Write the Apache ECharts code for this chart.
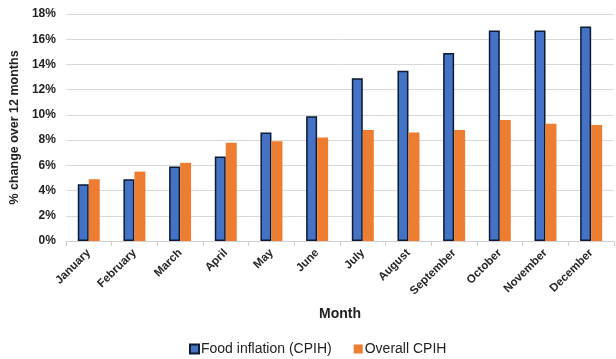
<!DOCTYPE html>
<html>
<head>
<meta charset="utf-8">
<script src="https://cdn.jsdelivr.net/npm/echarts@6/dist/echarts.min.js"></script>
<style>
  html, body { margin: 0; padding: 0; background: #fff; }
  #chart { width: 616px; height: 359px; }
</style>
</head>
<body>
<div id="chart"></div>
<script>
// Monthly 12-month inflation rates (%)
const months = ['January', 'February', 'March', 'April', 'May', 'June', 'July',
  'August', 'September', 'October', 'November', 'December'];
const foodInflation = [4.5, 4.9, 5.9, 6.7, 8.6, 9.9, 12.9, 13.5, 14.9, 16.7, 16.7, 17.0];
const overallCpih = [4.9, 5.5, 6.2, 7.8, 7.9, 8.2, 8.8, 8.6, 8.8, 9.6, 9.3, 9.2];
const seriesNames = ['Food inflation (CPIH)', 'Overall CPIH'];

const font = 'Liberation Sans, Arial, sans-serif';
const chart = echarts.init(document.getElementById('chart'));

chart.setOption({
  animation: false,
  textStyle: { fontFamily: font },
  grid: { left: 62, right: 2, top: 14, bottom: 118, containLabel: false },
  legend: {
    top: 337,
    left: 184,
    itemWidth: 9,
    itemHeight: 9,
    itemGap: 22,
    icon: 'rect',
    textStyle: { fontFamily: font, fontSize: 14, color: '#222', padding: [0, 0, 0, -3] },
    data: seriesNames
  },
  xAxis: {
    type: 'category',
    data: months,
    name: 'Month',
    nameLocation: 'middle',
    nameGap: 66,
    nameTextStyle: { fontFamily: font, fontSize: 14, fontWeight: 'bold', color: '#222' },
    axisLine: { lineStyle: { color: '#d0d0d0' } },
    axisTick: { show: true, length: 5, lineStyle: { color: '#d0d0d0' } },
    axisLabel: {
      rotate: 45,
      margin: 10,
      fontSize: 11.5,
      fontWeight: 'bold',
      color: '#262626',
      interval: 0
    }
  },
  yAxis: {
    type: 'value',
    min: 0,
    max: 18,
    interval: 2,
    name: '% change over 12 months',
    nameLocation: 'middle',
    nameGap: 38,
    nameTextStyle: { fontFamily: font, fontSize: 12.5, fontWeight: 'bold', color: '#222' },
    axisLine: { show: false },
    axisTick: { show: false },
    axisLabel: {
      formatter: v => v + '%',
      fontSize: 12,
      fontWeight: 'bold',
      color: '#222',
      margin: 10
    },
    splitLine: { lineStyle: { color: '#d9d9d9' } }
  },
  series: [
    {
      name: seriesNames[0],
      type: 'bar',
      data: foodInflation,
      barWidth: 11,
      barGap: '0%',
      itemStyle: { color: '#4472c4', borderColor: '#0d1a33', borderWidth: 1.5 }
    },
    {
      name: seriesNames[1],
      type: 'bar',
      data: overallCpih,
      barWidth: 11,
      itemStyle: { color: '#ed7d31' }
    }
  ]
});
</script>
</body>
</html>
